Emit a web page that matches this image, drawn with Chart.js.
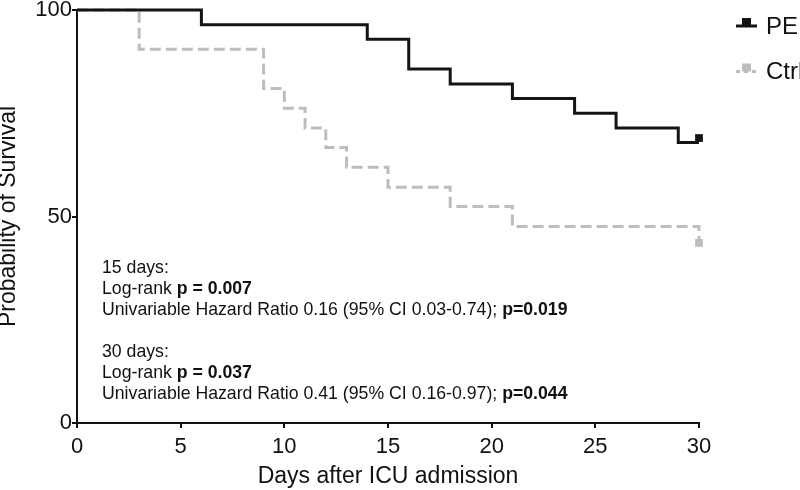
<!DOCTYPE html>
<html>
<head>
<meta charset="utf-8">
<script src="https://cdn.jsdelivr.net/npm/chart.js@4.4.1/dist/chart.umd.min.js"></script>
<style>
  html, body { margin: 0; padding: 0; background: #fff; }
  #wrap { width: 800px; height: 490px; }
</style>
</head>
<body>
<div id="wrap"><canvas id="kmChart" width="800" height="490"></canvas></div>
<script>
// Kaplan-Meier survival, 30 days after ICU admission
const groupNames = ['PE', 'Ctrl'];
const groupColors = ['#141414', '#bdbdbd'];

const peDays = [0, 6, 14, 16, 18, 21, 24, 26, 29, 30];
const peSurvival = [100, 96.4, 92.9, 85.7, 82.1, 78.6, 75.0, 71.4, 67.9, 67.9];
const ctrlDays = [0, 3, 9, 10, 11, 12, 13, 15, 18, 21, 30];
const ctrlSurvival = [100, 90.5, 81.0, 76.2, 71.4, 66.7, 61.9, 57.1, 52.4, 47.6, 43.0];

// censored marks at end of follow-up
const peCensorDays = [30];
const peCensorSurvival = [69];
const ctrlCensorDays = [30];
const ctrlCensorSurvival = [43.6];

const xTicks = [0, 5, 10, 15, 20, 25, 30];
const yTicks = [0, 50, 100];

const noteLines = [
    [['15 days:', false]],
    [['Log-rank ', false], ['p = 0.007', true]],
    [['Univariable Hazard Ratio 0.16 (95% CI 0.03-0.74); ', false], ['p=0.019', true]],
    null,
    [['30 days:', false]],
    [['Log-rank ', false], ['p = 0.037', true]],
    [['Univariable Hazard Ratio 0.41 (95% CI 0.16-0.97); ', false], ['p=0.044', true]]
];

const FONT = '"Liberation Sans", Arial, Helvetica, sans-serif';

function toPoints(xs, ys) {
    return xs.map((x, i) => ({ x: x, y: ys[i] }));
}

const notesPlugin = {
    id: 'notes',
    afterDraw(chart) {
        const ctx = chart.ctx;
        ctx.save();
        ctx.fillStyle = '#111';
        ctx.textBaseline = 'alphabetic';
        ctx.textAlign = 'left';
        let y = 272.7;
        noteLines.forEach(line => {
            if (line) {
                let x = 102;
                line.forEach(([text, bold]) => {
                    ctx.font = (bold ? 'bold ' : '') + '17.7px ' + FONT;
                    ctx.fillText(text, x, y);
                    x += ctx.measureText(text).width;
                });
            }
            y += 21.1;
        });
        ctx.restore();
    }
};

const legendPlugin = {
    id: 'kmLegend',
    afterDraw(chart) {
        const ctx = chart.ctx;
        ctx.save();
        groupNames.forEach((name, i) => {
            const ds = chart.data.datasets[i];
            const ly = 26 + i * 45.5;
            ctx.strokeStyle = ds.borderColor;
            ctx.fillStyle = ds.borderColor;
            ctx.lineWidth = 3;
            ctx.setLineDash(ds.borderDash.length ? [4, 4] : []);
            ctx.beginPath();
            ctx.moveTo(736, ly);
            ctx.lineTo(757, ly);
            ctx.stroke();
            ctx.setLineDash([]);
            ctx.fillRect(742, ly - 8, 9, 8);
            ctx.fillStyle = '#111';
            ctx.font = '24px ' + FONT;
            ctx.textBaseline = 'alphabetic';
            ctx.fillText(name, 766, ly + 7.5);
        });
        ctx.restore();
    }
};

const lineDefaults = {
    stepped: 'before',
    borderWidth: 3,
    pointRadius: 0,
    fill: false,
    clip: false
};

const ctx = document.getElementById('kmChart').getContext('2d');
const kmChart = new Chart(ctx, {
    type: 'line',
    data: {
        datasets: [
            Object.assign({
                label: groupNames[0],
                data: toPoints(peDays, peSurvival),
                borderColor: groupColors[0],
                borderDash: []
            }, lineDefaults),
            Object.assign({
                label: groupNames[1],
                data: toPoints(ctrlDays, ctrlSurvival),
                borderColor: groupColors[1],
                borderDash: [11, 5]
            }, lineDefaults),
            {
                label: 'PE censored',
                data: toPoints(peCensorDays, peCensorSurvival),
                showLine: false,
                pointStyle: 'rect',
                pointRadius: 5.5,
                pointBackgroundColor: groupColors[0],
                pointBorderWidth: 0,
                clip: false
            },
            {
                label: 'Ctrl censored',
                data: toPoints(ctrlCensorDays, ctrlCensorSurvival),
                showLine: false,
                pointStyle: 'rect',
                pointRadius: 5.5,
                pointBackgroundColor: groupColors[1],
                pointBorderWidth: 0,
                clip: false
            }
        ]
    },
    options: {
        responsive: false,
        animation: false,
        events: [],
        layout: { padding: { left: 0, top: 10, right: 101, bottom: 0 } },
        plugins: {
            legend: { display: false },
            tooltip: { enabled: false }
        },
        scales: {
            x: {
                type: 'linear',
                min: 0,
                max: 30,
                afterFit: scale => { scale.height = 67; },
                afterBuildTicks: scale => { scale.ticks = xTicks.map(v => ({ value: v })); },
                grid: { drawOnChartArea: false, drawTicks: true, tickLength: 5, color: '#111', lineWidth: 2 },
                border: { display: true, color: '#111', width: 2 },
                ticks: { color: '#111', padding: 6, font: { family: FONT, size: 22 } },
                title: {
                    display: true,
                    text: 'Days after ICU admission',
                    color: '#111',
                    font: { family: FONT, size: 23, lineHeight: 1 },
                    padding: { top: 0, bottom: 1.5 }
                }
            },
            y: {
                type: 'linear',
                min: 0,
                max: 100,
                afterFit: scale => { scale.width = 77; },
                afterBuildTicks: scale => { scale.ticks = yTicks.map(v => ({ value: v })); },
                grid: { drawOnChartArea: false, drawTicks: true, tickLength: 5, color: '#111', lineWidth: 2 },
                border: { display: true, color: '#111', width: 2 },
                ticks: { color: '#111', padding: 0, font: { family: FONT, size: 22, lineHeight: 0.8 } },
                title: {
                    display: true,
                    text: 'Probability of Survival',
                    color: '#111',
                    font: { family: FONT, size: 23, lineHeight: 1 },
                    padding: { top: -3, bottom: 0 }
                }
            }
        }
    },
    plugins: [notesPlugin, legendPlugin]
});
</script>
</body>
</html>
